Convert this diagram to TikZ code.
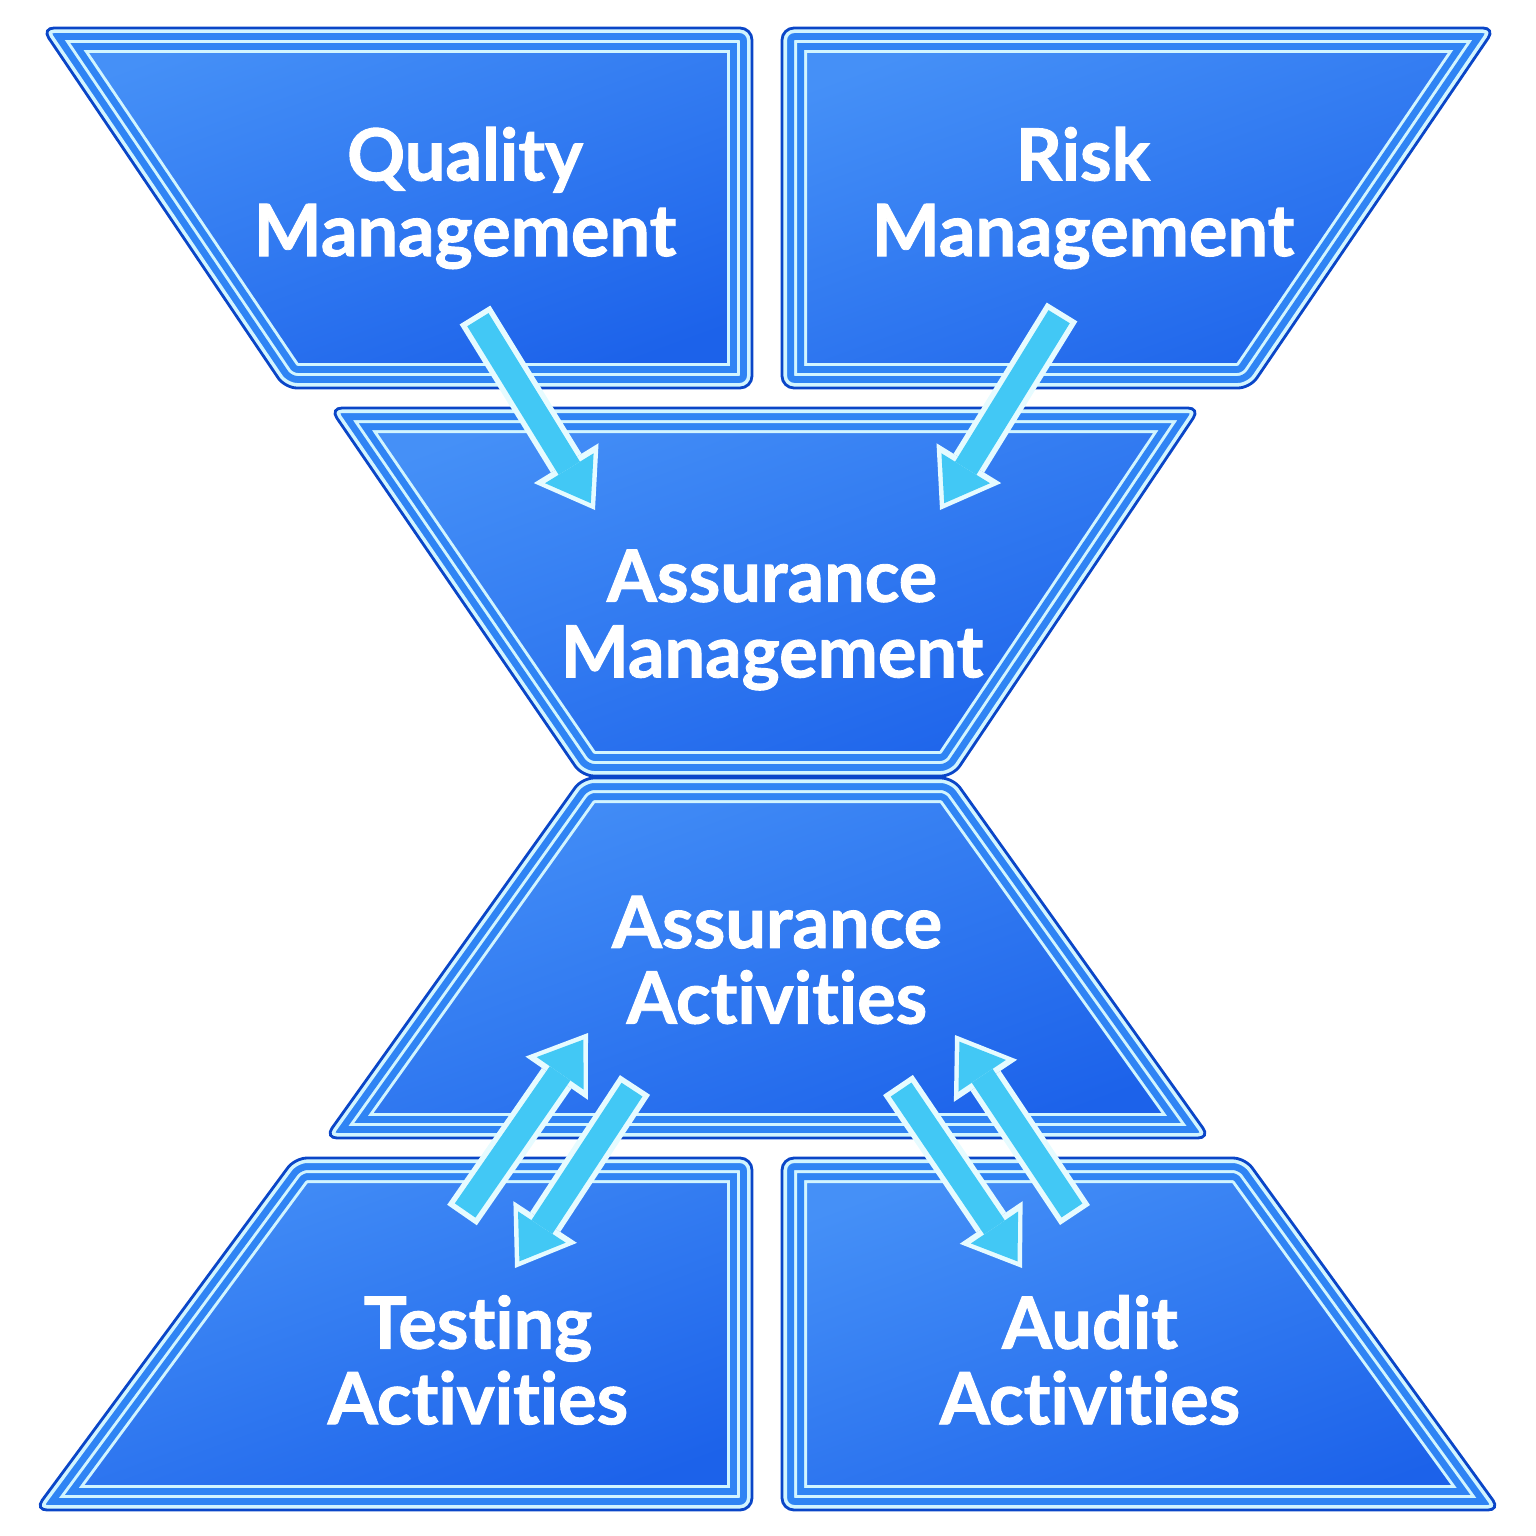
\documentclass[tikz,border=0pt]{standalone}
\usepackage{fontspec}
\setmainfont{Lato}[Ligatures=NoCommon, BoldFeatures={FakeBold=1.3}]
\usetikzlibrary{arrows.meta}
\definecolor{panelhi}{HTML}{4590F7}
\definecolor{panello}{HTML}{1C62EA}
\definecolor{rimdark}{HTML}{0A46C8}
\definecolor{rimlight}{HTML}{D2F5FF}
\definecolor{rimblue}{HTML}{2F84F4}
\definecolor{arrowcyan}{HTML}{42C8F5}
\definecolor{arrowrim}{HTML}{E6FBFF}
\tikzset{
  panel/.style={top color=panelhi, bottom color=panello, shading angle=20},
  blocktext/.style={text=white, align=center, inner sep=0pt, font=\fontsize{20.5pt}{21.5pt}\selectfont\bfseries},
  linkout/.style={line width=0.36cm, arrowrim, -{Triangle[width=0.76cm,length=0.55cm,line width=0pt]}},
  linkin/.style={line width=0.25cm, arrowcyan, shorten >=0.08cm, shorten <=0.055cm, -{Triangle[width=0.57cm,length=0.41cm,line width=0pt]}}
}

\begin{document}
\begin{tikzpicture}
	\useasboundingbox (0,0) rectangle (15.36,-15.36);
	% corners of the six blocks
	\coordinate (qm1) at (0.42,-0.28); \coordinate (qm2) at (7.52,-0.28); \coordinate (qm3) at (7.52,-3.88); \coordinate (qm4) at (2.85,-3.88);
	\coordinate (rm1) at (7.82,-0.28); \coordinate (rm2) at (14.95,-0.28); \coordinate (rm3) at (12.50,-3.88); \coordinate (rm4) at (7.82,-3.88);
	\coordinate (am1) at (3.30,-4.08); \coordinate (am2) at (12.00,-4.08); \coordinate (am3) at (9.53,-7.76); \coordinate (am4) at (5.82,-7.76);
	\coordinate (aa1) at (5.82,-7.78); \coordinate (aa2) at (9.53,-7.78); \coordinate (aa3) at (12.10,-11.38); \coordinate (aa4) at (3.25,-11.38);
	\coordinate (ta1) at (2.95,-11.58); \coordinate (ta2) at (7.52,-11.58); \coordinate (ta3) at (7.52,-15.10); \coordinate (ta4) at (0.35,-15.10);
	\coordinate (au1) at (7.82,-11.58); \coordinate (au2) at (12.45,-11.58); \coordinate (au3) at (15.00,-15.10); \coordinate (au4) at (7.82,-15.10);
	\foreach \s in {qm,rm,am,aa,ta,au} {
		\fill[panel, rounded corners=0.12cm] (\s1) -- (\s2) -- (\s3) -- (\s4) -- cycle;
		\begin{scope}
			\clip[rounded corners=0.12cm] (\s1) -- (\s2) -- (\s3) -- (\s4) -- cycle;
			\foreach \w/\c in {0.50/rimlight, 0.44/rimblue, 0.30/rimlight, 0.24/rimblue, 0.10/rimlight}
			\draw[line width=\w cm, color=\c, rounded corners=0.12cm] (\s1) -- (\s2) -- (\s3) -- (\s4) -- cycle;
		\end{scope}
		\draw[rimdark, line width=0.8pt, rounded corners=0.12cm] (\s1) -- (\s2) -- (\s3) -- (\s4) -- cycle;
	}
	% block texts
	\node[blocktext] (qm) at (4.65,-1.98) {Quality\\Management};
	\node[blocktext] (rm) at (10.83,-1.98) {Risk\\Management};
	\node[blocktext] (am) at (7.72,-6.20) {Assurance\\Management};
	\node[blocktext] (aa) at (7.77,-9.60) {Assurance\\Activities};
	\node[blocktext] (ta) at (4.78,-13.60) {Testing\\Activities};
	\node[blocktext] (au) at (10.90,-13.60) {Audit\\Activities};
	% arrow ends
	\coordinate (qmout) at (4.75,-3.15); \coordinate (amin1) at (5.95,-5.10);
	\coordinate (rmout) at (10.62,-3.12); \coordinate (amin2) at (9.40,-5.10);
	\coordinate (taout) at (4.62,-12.15); \coordinate (aain1) at (5.88,-10.33);
	\coordinate (aaout1) at (6.35,-10.85); \coordinate (tain) at (5.15,-12.68);
	\coordinate (aaout2) at (8.98,-10.85); \coordinate (auin) at (10.22,-12.68);
	\coordinate (auout) at (10.75,-12.15); \coordinate (aain2) at (9.55,-10.35);
	\foreach \a/\b in {qmout/amin1, rmout/amin2, taout/aain1, aaout1/tain, aaout2/auin, auout/aain2} {
		\draw[linkout] (\a) -- (\b);
		\draw[linkin] (\a) -- (\b);
	}
\end{tikzpicture}
\end{document}
